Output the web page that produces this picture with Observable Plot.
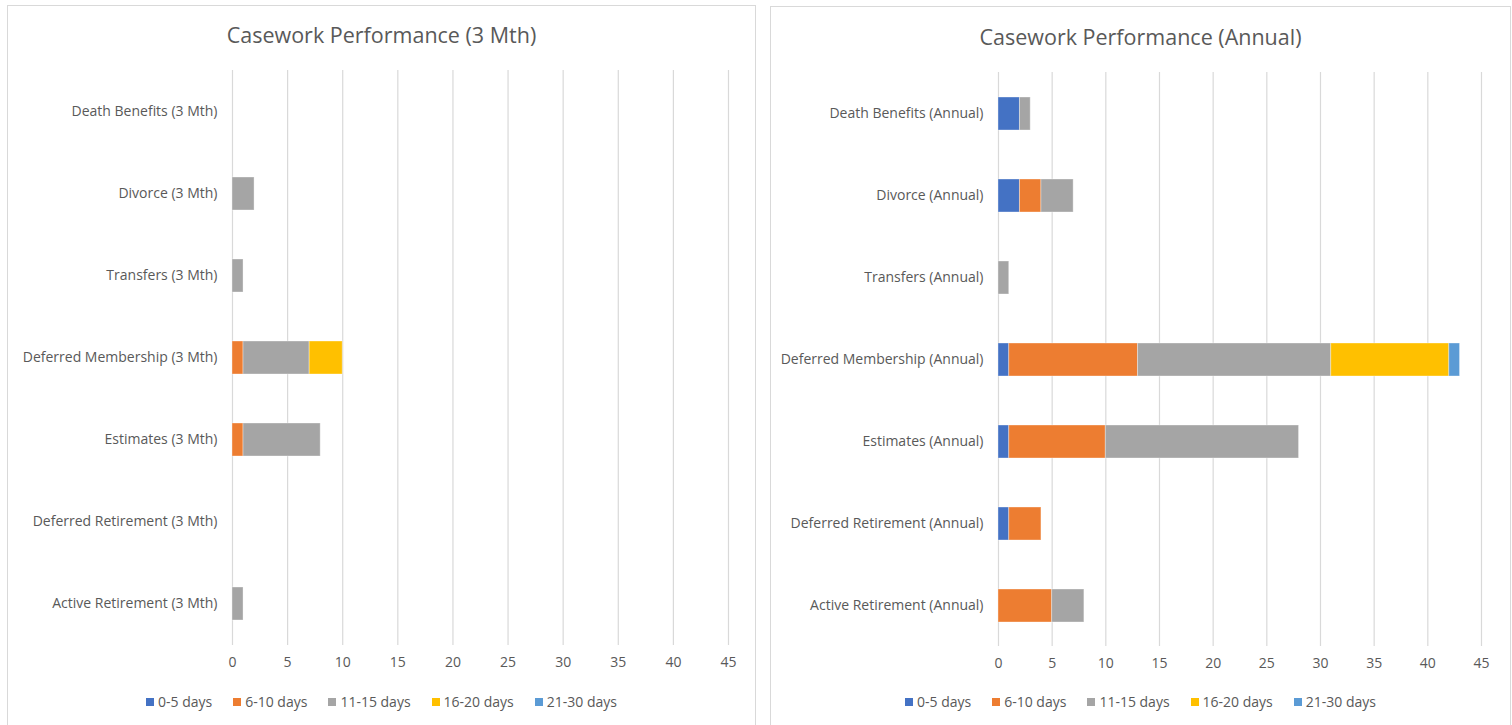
<!DOCTYPE html>
<html>
<head>
<meta charset="utf-8">
<script src="https://cdn.jsdelivr.net/npm/d3@7"></script>
<script src="https://cdn.jsdelivr.net/npm/@observablehq/plot@0.6"></script>
<style>
  html, body { margin: 0; padding: 0; background: #fff; width: 1512px; height: 725px; overflow: hidden; }
  .panel { position: absolute; border: 1px solid #d9d9d9; box-sizing: border-box; background: #fff; font-family: "Open Sans", sans-serif; color: #595959; }
  .title { position: absolute; left: 0; right: 0; text-align: center; font-size: 21.5px; }
  .chart { position: absolute; left: 0; top: 0; }
  .legend { position: absolute; left: 0; right: 0; display: flex; justify-content: center; font-size: 14px; gap: 21px; }
  .legend span.item { display: inline-flex; align-items: center; }
  .legend span.sw { display: inline-block; width: 8px; height: 8px; margin-right: 4px; }
</style>
</head>
<body>
<div id="p1" class="panel" style="left:7px; top:5px; width:749px; height:730px;">
  <div class="title" style="top:14px;">Casework Performance (3 Mth)</div>
</div>
<div id="p2" class="panel" style="left:770px; top:6px; width:741px; height:730px;">
  <div class="title" style="top:15px;">Casework Performance (Annual)</div>
</div>
<script>
// ---- data ----
const categories3Mth = [
  "Death Benefits (3 Mth)", "Divorce (3 Mth)", "Transfers (3 Mth)",
  "Deferred Membership (3 Mth)", "Estimates (3 Mth)",
  "Deferred Retirement (3 Mth)", "Active Retirement (3 Mth)"
];
const categoriesAnnual = [
  "Death Benefits (Annual)", "Divorce (Annual)", "Transfers (Annual)",
  "Deferred Membership (Annual)", "Estimates (Annual)",
  "Deferred Retirement (Annual)", "Active Retirement (Annual)"
];
const bandLabels = ["0-5 days", "6-10 days", "11-15 days", "16-20 days", "21-30 days"];
const xTicks = [0, 5, 10, 15, 20, 25, 30, 35, 40, 45];

// 3 month values (per category, top to bottom)
const mth3_0_5   = [0, 0, 0, 0, 0, 0, 0];
const mth3_6_10  = [0, 0, 0, 1, 1, 0, 0];
const mth3_11_15 = [0, 2, 1, 6, 7, 0, 1];
const mth3_16_20 = [0, 0, 0, 3, 0, 0, 0];
const mth3_21_30 = [0, 0, 0, 0, 0, 0, 0];

// annual values
const annual_0_5   = [2, 2, 0, 1, 1, 1, 0];
const annual_6_10  = [0, 2, 0, 12, 9, 3, 5];
const annual_11_15 = [1, 3, 1, 18, 18, 0, 3];
const annual_16_20 = [0, 0, 0, 11, 0, 0, 0];
const annual_21_30 = [0, 0, 0, 1, 0, 0, 0];

const bandColors = ["#4472C4", "#ED7D31", "#A5A5A5", "#FFC000", "#5B9BD5"];

function buildRows(cats, series) {
  const rows = [];
  cats.forEach((c, i) => {
    bandLabels.forEach((b, j) => {
      const v = series[j][i];
      if (v > 0) rows.push({cat: c, band: b, value: v});
    });
  });
  return rows;
}

function makeChart(cats, series, o) {
  const rows = buildRows(cats, series);
  return Plot.plot({
    width: o.width, height: o.height,
    marginLeft: o.ml, marginRight: o.mr, marginTop: o.mt, marginBottom: o.mb,
    style: {fontFamily: "Open Sans, sans-serif", fontSize: "14px", color: "#595959", background: "transparent", overflow: "visible"},
    x: {domain: [0, 45], label: null},
    y: {domain: cats, paddingInner: 0.6, paddingOuter: 0.3, label: null},
    color: {domain: bandLabels, range: bandColors},
    marks: [
      Plot.ruleX(xTicks, {stroke: "#d9d9d9", strokeWidth: 1.2}),
      Plot.barX(rows, {y: "cat", x: "value", fill: "band", stroke: "#ffffff", strokeOpacity: 0.35, strokeWidth: 1}),
      Plot.axisX({ticks: xTicks, tickSize: 0, tickPadding: 12, label: null, fill: "#595959"}),
      Plot.axisY({tickSize: 0, tickPadding: 15, label: null, fill: "#595959"})
    ]
  });
}

function makeLegend(top) {
  const lg = document.createElement("div");
  lg.className = "legend";
  lg.style.top = top + "px";
  bandLabels.forEach((b, i) => {
    const it = document.createElement("span");
    it.className = "item";
    const sw = document.createElement("span");
    sw.className = "sw";
    sw.style.background = bandColors[i];
    it.appendChild(sw);
    it.appendChild(document.createTextNode(b));
    lg.appendChild(it);
  });
  return lg;
}

const p1 = document.getElementById("p1");
const c1 = makeChart(categories3Mth, [mth3_0_5, mth3_6_10, mth3_11_15, mth3_16_20, mth3_21_30],
  {width: 747, height: 680, ml: 224, mr: 27, mt: 64, mb: 41});
c1.classList.add("chart");
p1.appendChild(c1);
p1.appendChild(makeLegend(686));

const p2 = document.getElementById("p2");
const c2 = makeChart(categoriesAnnual, [annual_0_5, annual_6_10, annual_11_15, annual_16_20, annual_21_30],
  {width: 739, height: 680, ml: 227, mr: 29, mt: 65, mb: 41});
c2.classList.add("chart");
p2.appendChild(c2);
p2.appendChild(makeLegend(685));
</script>
</body>
</html>
